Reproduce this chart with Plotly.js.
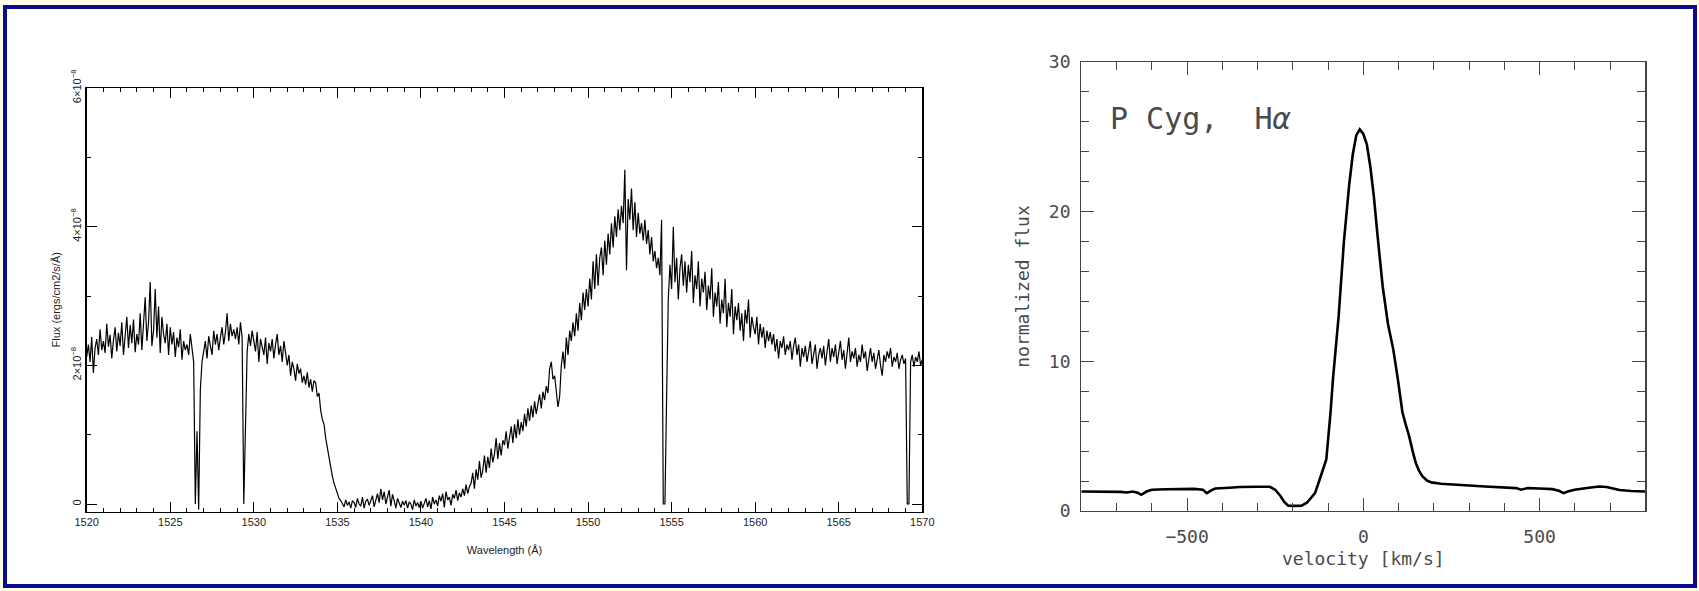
<!DOCTYPE html>
<html>
<head>
<meta charset="utf-8">
<script src="https://cdn.plot.ly/plotly-3.0.1.min.js"></script>
<style>
  html, body { margin: 0; padding: 0; width: 1699px; height: 591px; overflow: hidden; background: #fffde8; }
  #frame { position: absolute; left: 3px; top: 5px; width: 1694px; height: 583px; box-sizing: border-box;
           border: 4px solid #0a0a8c; background: #ffffff; }
  #chart { position: absolute; left: 0; top: 0; width: 1699px; height: 591px; }
</style>
</head>
<body>
<div id="frame"></div>
<div id="chart"></div>
<script>
// ---------- Left panel: UV spectrum (flux in units of 1e-8 ergs/cm2/s/Å) ----------
const wlStart = 1520;      // first wavelength sample (Å)
const wlStep = 0.1;        // sampling step (Å)
const fluxLeft = [
  /*1520*/ 2.12, 2.30, 2.05, 2.41, 1.89, 2.25, 2.38, 2.15, 2.52, 2.22,
  /*1521*/ 2.35, 2.18, 2.60, 2.27, 2.44, 2.10, 2.36, 2.55, 2.20, 2.47,
  /*1522*/ 2.28, 2.62, 2.15, 2.40, 2.70, 2.25, 2.58, 2.32, 2.66, 2.19,
  /*1523*/ 2.45, 2.30, 2.75, 2.22, 2.58, 2.98, 2.35, 2.62, 3.20, 2.28,
  /*1524*/ 2.50, 3.10, 2.40, 2.85, 2.18, 2.70, 2.45, 2.32, 2.60, 2.15,
  /*1525*/ 2.55, 2.30, 2.48, 2.12, 2.40, 2.26, 2.52, 2.08, 2.35, 2.22,
  /*1526*/ 2.30, 2.15, 2.45, 2.25, 2.05, 0.00, 1.05, -0.08, 1.65, 2.05,
  /*1527*/ 2.20, 2.35, 2.10, 2.42, 2.28, 2.15, 2.50, 2.30, 2.45, 2.22,
  /*1528*/ 2.40, 2.55, 2.30, 2.48, 2.75, 2.35, 2.60, 2.42, 2.52, 2.38,
  /*1529*/ 2.55, 2.30, 2.62, 2.40, 0.00, 1.15, 2.20, 2.45, 2.28, 2.50,
  /*1530*/ 2.35, 2.20, 2.48, 2.05, 2.38, 2.25, 2.15, 2.40, 2.02, 2.32,
  /*1531*/ 2.20, 2.38, 2.10, 2.30, 2.45, 2.15, 2.28, 2.05, 2.35, 2.18,
  /*1532*/ 2.00, 2.15, 1.85, 2.05, 1.95, 1.78, 2.02, 1.88, 1.95, 1.75,
  /*1533*/ 1.85, 1.72, 1.90, 1.68, 1.80, 1.62, 1.78, 1.75, 1.55, 1.60,
  /*1534*/ 1.35, 1.22, 1.15, 0.95, 0.80, 0.65, 0.52, 0.40, 0.30, 0.22,
  /*1535*/ 0.15, 0.08, 0.05, 0.00, -0.04, 0.06, -0.02, 0.03, -0.06, 0.05,
  /*1536*/ 0.02, -0.05, 0.08, 0.00, -0.03, 0.10, -0.06, 0.04, 0.07, -0.02,
  /*1537*/ 0.05, 0.12, -0.04, 0.08, 0.15, 0.02, 0.22, 0.06, 0.18, 0.00,
  /*1538*/ 0.10, 0.20, -0.03, 0.14, 0.05, -0.06, 0.08, 0.02, -0.05, 0.04,
  /*1539*/ -0.02, 0.05, -0.06, 0.03, 0.00, -0.08, 0.06, -0.03, 0.02, -0.05,
  /*1540*/ 0.04, -0.06, 0.02, 0.08, -0.04, 0.05, -0.07, 0.10, 0.00, 0.06,
  /*1541*/ -0.03, 0.12, 0.04, 0.15, -0.05, 0.18, 0.06, 0.10, -0.02, 0.14,
  /*1542*/ 0.08, 0.20, 0.05, 0.16, 0.10, 0.22, 0.12, 0.28, 0.15, 0.25,
  /*1543*/ 0.30, 0.45, 0.22, 0.50, 0.35, 0.62, 0.38, 0.48, 0.70, 0.45,
  /*1544*/ 0.68, 0.52, 0.80, 0.60, 0.72, 0.95, 0.65, 0.88, 0.70, 0.92,
  /*1545*/ 0.85, 1.05, 0.80, 0.98, 1.12, 0.88, 1.15, 0.95, 1.22, 1.00,
  /*1546*/ 1.18, 1.05, 1.30, 1.12, 1.38, 1.20, 1.42, 1.25, 1.48, 1.30,
  /*1547*/ 1.45, 1.58, 1.38, 1.62, 1.50, 1.70, 1.60, 1.95, 2.05, 1.80,
  /*1548*/ 1.85, 1.62, 1.40, 1.55, 2.00, 2.20, 1.95, 2.40, 2.15, 2.50,
  /*1549*/ 2.35, 2.62, 2.42, 2.75, 2.50, 2.90, 2.65, 3.05, 2.80, 3.10,
  /*1550*/ 2.85, 3.25, 2.95, 3.50, 3.10, 3.60, 3.15, 3.55, 3.70, 3.30,
  /*1551*/ 3.80, 3.45, 3.90, 3.60, 4.05, 3.70, 4.15, 3.85, 4.25, 3.95,
  /*1552*/ 4.30, 4.05, 4.82, 3.37, 4.40, 4.10, 4.55, 3.95, 4.35, 3.85,
  /*1553*/ 4.20, 3.90, 4.05, 3.80, 4.10, 3.75, 3.95, 3.60, 3.85, 3.50,
  /*1554*/ 3.65, 3.40, 3.55, 3.30, 4.10, 0.00, 0.00, 1.55, 2.95, 3.45,
  /*1555*/ 3.10, 4.00, 3.20, 3.55, 2.95, 3.40, 3.60, 3.15, 3.50, 3.05,
  /*1556*/ 3.45, 3.20, 3.65, 2.90, 3.30, 3.10, 3.50, 2.85, 3.25, 3.05,
  /*1557*/ 3.35, 2.80, 3.15, 2.95, 3.40, 2.70, 3.05, 2.85, 3.20, 2.60,
  /*1558*/ 2.95, 2.75, 3.25, 2.55, 2.90, 2.70, 3.10, 2.45, 2.85, 2.65,
  /*1559*/ 2.90, 2.50, 2.75, 2.35, 2.80, 2.60, 2.95, 2.40, 2.70, 2.55,
  /*1560*/ 2.45, 2.70, 2.30, 2.60, 2.40, 2.55, 2.25, 2.50, 2.35, 2.48,
  /*1561*/ 2.30, 2.45, 2.20, 2.38, 2.10, 2.35, 2.25, 2.42, 2.15, 2.30,
  /*1562*/ 2.22, 2.35, 2.08, 2.28, 2.40, 2.15, 2.30, 1.98, 2.25, 2.12,
  /*1563*/ 2.28, 2.05, 2.20, 2.35, 2.02, 2.18, 2.30, 1.95, 2.15, 2.25,
  /*1564*/ 2.10, 2.28, 2.00, 2.20, 2.38, 2.05, 2.25, 2.12, 2.30, 2.02,
  /*1565*/ 2.18, 2.35, 2.08, 2.22, 1.95, 2.15, 2.40, 2.05, 2.20, 2.10,
  /*1566*/ 2.25, 1.98, 2.15, 2.05, 2.30, 2.10, 2.20, 1.92, 2.12, 2.25,
  /*1567*/ 2.05, 2.18, 1.95, 2.10, 2.22, 2.00, 1.85, 2.15, 2.05, 2.20,
  /*1568*/ 2.10, 2.25, 1.98, 2.12, 2.05, 2.18, 1.95, 2.08, 2.15, 2.02,
  /*1569*/ 2.10, 0.00, 0.00, 2.05, 2.15, 1.98, 2.12, 2.05, 2.20, 2.00,
  /*1570*/ 2.08
];
const wavelengths = fluxLeft.map((_, i) => +(wlStart + i * wlStep).toFixed(2));
const leftYTickLabels = { "0": "0", "2": "2×10<sup>−8</sup>", "4": "4×10<sup>−8</sup>", "6": "6×10<sup>−8</sup>" };

// ---------- Right panel: P Cyg H-alpha profile ----------
const velocity = [-800, -760, -720, -690, -670, -655, -640, -630, -615, -600, -560, -520, -480, -455, -444, -430,
  -420, -380, -350, -300, -265, -250, -235, -225, -213, -195, -175, -160, -148, -137, -124, -112, -105, -93, -86,
  -70, -55, -40, -30, -20, -10, 0, 10, 20, 30, 40, 55, 70, 85, 98, 111, 120, 130, 140, 149, 158, 168, 180, 193,
  220, 257, 300, 345, 390, 434, 447, 458, 466, 500, 536, 555, 568, 580, 599, 640, 669, 690, 727, 760, 800];
const normFlux = [1.30, 1.30, 1.30, 1.28, 1.24, 1.30, 1.22, 1.08, 1.30, 1.42, 1.45, 1.48, 1.48, 1.42, 1.19, 1.40,
  1.50, 1.55, 1.60, 1.62, 1.62, 1.42, 1.00, 0.63, 0.36, 0.34, 0.36, 0.55, 0.85, 1.19, 2.09, 3.00, 3.44, 6.58, 8.83,
  13.0, 18.0, 21.8, 23.8, 25.1, 25.5, 25.2, 24.5, 23.0, 21.0, 18.5, 15.0, 12.5, 10.8, 8.8, 6.6, 5.8, 5.0, 4.0, 3.2,
  2.7, 2.31, 2.05, 1.91, 1.82, 1.75, 1.70, 1.64, 1.58, 1.53, 1.42, 1.48, 1.53, 1.50, 1.46, 1.35, 1.19, 1.30, 1.42,
  1.55, 1.64, 1.60, 1.40, 1.34, 1.30];
const annotationText = "P Cyg,  H<i>α</i>";

// ---------- Plot ----------
const W = 1699, H = 591;
const px2x = p => p / W;
const px2y = p => 1 - p / H;

const leftFont = { family: "Liberation Sans, Arial, sans-serif", size: 11, color: "#222" };
const rightFont = { family: "DejaVu Sans Mono, monospace", size: 18, color: "#4a4a4a" };

const traces = [
  { x: wavelengths, y: fluxLeft, type: "scatter", mode: "lines", xaxis: "x", yaxis: "y",
    line: { color: "#000", width: 1.2 }, hoverinfo: "skip" },
  { x: velocity, y: normFlux, type: "scatter", mode: "lines", xaxis: "x2", yaxis: "y2",
    line: { color: "#000", width: 2.6 }, hoverinfo: "skip" }
];

const layout = {
  width: W, height: H,
  margin: { l: 0, r: 0, t: 0, b: 0 },
  paper_bgcolor: "rgba(0,0,0,0)", plot_bgcolor: "#ffffff",
  showlegend: false,
  xaxis: {
    domain: [px2x(86.7), px2x(922.3)], anchor: "y", range: [1520, 1570],
    tickmode: "linear", tick0: 1520, dtick: 5,
    ticks: "inside", ticklen: 10, tickwidth: 1, tickcolor: "#000",
    minor: { ticks: "inside", dtick: 1, tick0: 1520, ticklen: 4, tickwidth: 1, tickcolor: "#000" },
    showline: true, linecolor: "#000", linewidth: 1.5, mirror: "ticks",
    showgrid: false, zeroline: false, tickfont: leftFont,
    title: { text: "Wavelength (Å)", font: leftFont, standoff: 19 }
  },
  yaxis: {
    domain: [px2y(511.5), px2y(88)], anchor: "x", range: [-0.108, 6],
    tickmode: "linear", tick0: 0, dtick: 2, tickangle: -90, labelalias: leftYTickLabels,
    ticks: "inside", ticklen: 10, tickwidth: 1, tickcolor: "#000",
    minor: { ticks: "inside", dtick: 1, tick0: 0, ticklen: 4, tickwidth: 1, tickcolor: "#000" },
    showline: true, linecolor: "#000", linewidth: 1.5, mirror: "ticks",
    showgrid: false, zeroline: false, tickfont: leftFont,
    title: { text: "Flux (ergs/cm2/s/Å)", font: leftFont, standoff: 6 }
  },
  xaxis2: {
    domain: [px2x(1081.3), px2x(1645.3)], anchor: "y2", range: [-800, 800],
    tickmode: "linear", tick0: 0, dtick: 500,
    ticks: "inside", ticklen: 13, tickwidth: 1, tickcolor: "#444",
    minor: { ticks: "inside", dtick: 100, tick0: 0, ticklen: 8, tickwidth: 1, tickcolor: "#444" },
    showline: true, linecolor: "#444", linewidth: 1.2, mirror: "ticks",
    showgrid: false, zeroline: false, tickfont: rightFont, ticklabelstandoff: 9,
    title: { text: "velocity [km/s]", font: rightFont, standoff: 6 }
  },
  yaxis2: {
    domain: [px2y(511), px2y(62)], anchor: "x2", range: [0, 30],
    tickmode: "linear", tick0: 0, dtick: 10,
    ticks: "inside", ticklen: 13, tickwidth: 1, tickcolor: "#444",
    minor: { ticks: "inside", dtick: 2, tick0: 0, ticklen: 8, tickwidth: 1, tickcolor: "#444" },
    showline: true, linecolor: "#444", linewidth: 1.2, mirror: "ticks",
    showgrid: false, zeroline: false, tickfont: rightFont, ticklabelstandoff: 6,
    title: { text: "normalized flux", font: rightFont, standoff: 14 }
  },
  annotations: [{
    xref: "paper", yref: "paper", x: px2x(1108), y: px2y(119), xanchor: "left", yanchor: "middle",
    text: annotationText, showarrow: false,
    font: { family: "DejaVu Sans Mono, monospace", size: 30, color: "#4a4a4a" }
  }]
};

Plotly.newPlot("chart", traces, layout, { displayModeBar: false, staticPlot: true });
</script>
</body>
</html>
